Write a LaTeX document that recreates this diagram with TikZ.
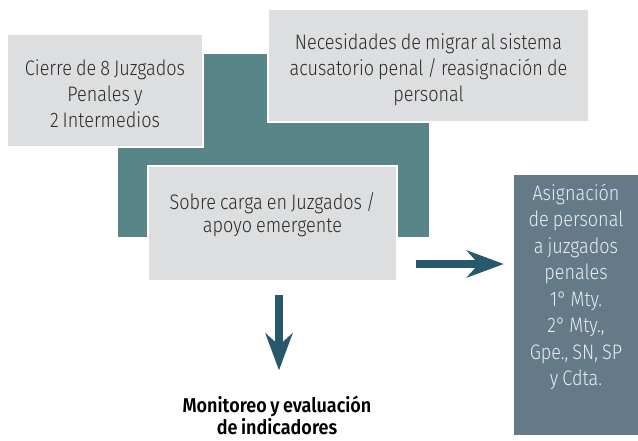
\documentclass[tikz,border=0pt]{standalone}
\usepackage{fontspec}
\setmainfont{Fira Sans Light}[FakeStretch=0.86, WordSpace=0.8, BoldFont={Fira Sans SemiBold}, BoldFeatures={FakeStretch=0.9}]
\usetikzlibrary{arrows.meta, positioning}
\definecolor{BoxGrey}{HTML}{DDDEE0}
\definecolor{FrameTeal}{HTML}{588688}
\definecolor{ArrowTeal}{HTML}{27596A}
\definecolor{SlateBox}{HTML}{647A89}
\definecolor{TextDark}{HTML}{2B2B2B}
\definecolor{TextLight}{HTML}{E8EDF1}

\begin{document}
\begin{tikzpicture}[x=1pt, y=-1pt,
  box/.style={draw=white, line width=1.5pt, fill=BoxGrey, inner sep=0pt},
  boxtext/.style={align=center, text=TextDark, inner sep=0pt, font=\fontsize{21}{26}\selectfont},
  flow/.style={-{Stealth[length=37pt, width=27pt, inset=12pt]}, line width=8pt, draw=ArrowTeal}
]
  \useasboundingbox (0,0) rectangle (638,440);

  % teal backdrop behind the grey boxes
  \node[fill=FrameTeal, minimum width=311pt, minimum height=183pt, inner sep=0pt] (frame) at (273.5,145.5) {};

  \node[box, minimum width=196pt, minimum height=113pt] (cierre) at (105,90.5) {};
  \node[boxtext] (cierretext) at ([yshift=-3pt]cierre.center) {Cierre de 8 Juzgados\\Penales y\\2 Intermedios};

  \node[box, minimum width=321pt, minimum height=113pt] (migrar) at (428.5,65.5) {};
  \node[boxtext] (migrartext) at ([yshift=-4pt]migrar.center) {Necesidades de migrar al sistema\\acusatorio penal / reasignación de\\personal};

  \node[box, minimum width=249pt, minimum height=115pt] (sobre) at (272.5,223.5) {};
  \node[boxtext, anchor=north, font=\fontsize{21}{23}\selectfont] (sobretext) at ([yshift=-27pt]sobre.north) {Sobre carga en Juzgados /\\apoyo emergente};

  \node[fill=SlateBox, minimum width=124pt, minimum height=260pt, inner sep=0pt] (asign) at (576,305) {};
  \node[boxtext, anchor=north, text=TextLight, font=\fontsize{21}{26.5}\selectfont] (asigntext) at ([yshift=-9pt]asign.north) {Asignación\\de personal\\a juzgados\\penales\\1° Mty.\\2° Mty.,\\Gpe., SN, SP\\y Cdta.};

  \node[align=center, inner sep=0pt, text=black, font=\bfseries\fontsize{20}{22}\selectfont] (monitor) at (277,415) {Monitoreo y evaluación\\de indicadores};

  \draw[flow] ([xshift=6.5pt, yshift=-13pt]sobre.south) -- ([xshift=2pt, yshift=25pt]monitor.north);
  \draw[flow] ([xshift=18pt, yshift=-40.5pt]sobre.east) -- ([xshift=-10pt, yshift=41pt]asign.west);
\end{tikzpicture}
\end{document}
